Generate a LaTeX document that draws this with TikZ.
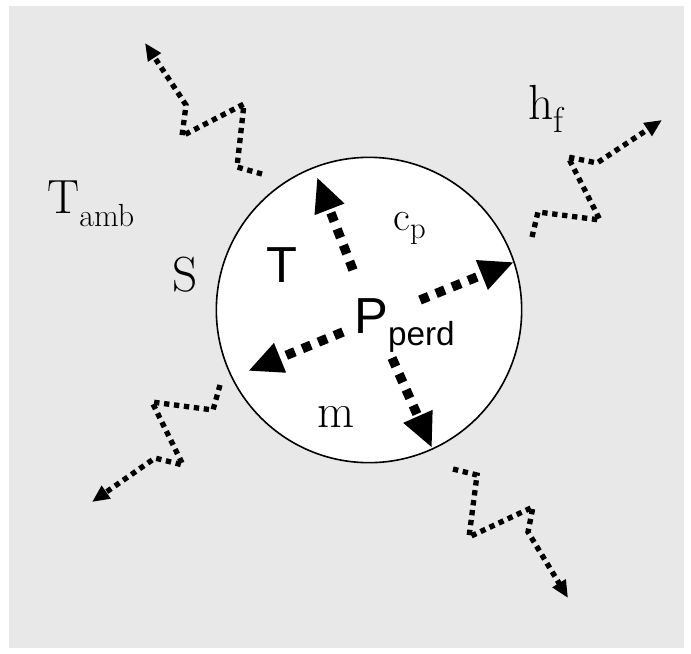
\documentclass[tikz,border=0pt]{standalone}
\usepackage{fontspec}
\newfontfamily\arialfont{Liberation Sans}
\usetikzlibrary{arrows.meta}
\definecolor{bggray}{RGB}{232,232,232}
\tikzset{
  flux/.style={line width=7pt, dash pattern=on 7pt off 6pt, -{Triangle[length=26pt,width=22pt]}},
  rayon/.style={line width=4pt, dash pattern=on 4pt off 3.5pt, -{Triangle[length=13pt,width=11pt]}},
  lbl/.style={anchor=base west, inner sep=0pt},
}
\newcommand{\serifsz}[1]{\fontsize{#1}{#1}\selectfont}

\begin{document}
\begin{tikzpicture}[x=0.75pt,y=0.75pt,yscale=-1,xscale=1]
\useasboundingbox (0,0) rectangle (691,653);

%Shape: Rectangle (background)
\fill [bggray] (9,6) rectangle (684,648);

%Shape: Circle
\node (body) [circle, draw, line width=1.2pt, fill=white, minimum size=229pt, inner sep=0pt] at (369,310) {};

%Inner arrows
\coordinate (upA) at (353,270);   \coordinate (upB) at (317,177);
\coordinate (rtA) at (420,300);   \coordinate (rtB) at (514,262);
\coordinate (ltA) at (343,332);   \coordinate (ltB) at (248,371);
\coordinate (dnA) at (392,358);   \coordinate (dnB) at (432,448);
\draw [flux] (upA) -- (upB);
\draw [flux] (rtA) -- (rtB);
\draw [flux] (ltA) -- (ltB);
\draw [flux] (dnA) -- (dnB);

%Zigzag rays
\draw [rayon] (262,174) -- (237,167) -- (244,104) -- (182,136) -- (186,105) -- (145,43);
\draw [rayon] (532,237) -- (538,212) -- (600,220) -- (568,157) -- (597,163) -- (662,120);
\draw [rayon] (220,385) -- (213,410) -- (152,402) -- (183,465) -- (155,458) -- (92,502);
\draw [rayon] (453,469) -- (477,475) -- (469,537) -- (533,507) -- (528,532) -- (568,598);

% Text Node
\node (tamb) [lbl] at (47,213) {\serifsz{36}T\raisebox{-9.75pt}{\serifsz{24}amb}};
% Text Node
\node (surf) [lbl] at (172,291) {\serifsz{37}S};
% Text Node
\node (cp) [lbl] at (393,230) {\serifsz{31}c\raisebox{-6pt}{\serifsz{23}p}};
% Text Node
\node (hf) [lbl] at (528,119) {\serifsz{37}h\raisebox{-9.75pt}{\serifsz{27}f}};
% Text Node
\node (mass) [lbl] at (317,427) {\serifsz{36}m};
% Text Node
\node (temp) [lbl] at (266,282) {\arialfont\fontsize{38}{38}\selectfont T};
% Text Node
\node (pperd) [lbl] at (354,333) {\arialfont\fontsize{38}{38}\selectfont P\raisebox{-9pt}{\fontsize{25}{25}\selectfont perd}};

\end{tikzpicture}
\end{document}
